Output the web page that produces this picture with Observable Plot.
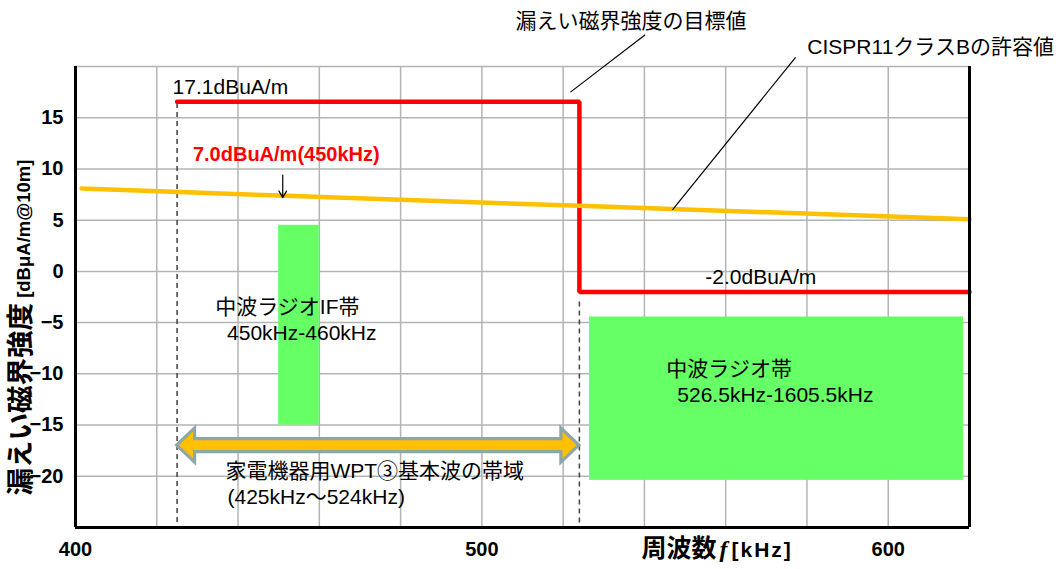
<!DOCTYPE html>
<html><head><meta charset="utf-8">
<script src="https://cdn.jsdelivr.net/npm/d3@7"></script>
<script src="https://cdn.jsdelivr.net/npm/@observablehq/plot@0.6"></script>
<style>
body{margin:0;background:#fff;}
#chart svg{display:block;}
</style></head><body><div id="chart"></div>
<script>
// ---- data ----
const xTickValues = [400, 500, 600];
const xGridValues = [420, 440, 460, 480, 500, 520, 540, 560, 580, 600];
const yTickValues = [-20, -15, -10, -5, 0, 5, 10, 15];
const yGridValues = [-20, -15, -10, -5, 0, 5, 10, 15, 20];

// target leakage field strength (red step line)
const targetF = [425, 524, 524, 620];
const targetV = [16.55, 16.55, -2.0, -2.0];
// CISPR11 class B limit (orange)
const cisprF = [401.5, 450, 524, 620];
const cisprV = [8.1, 7.4, 6.4, 5.1];

// green bands
const bandF1 = [450, 526.5];
const bandF2 = [460, 618.5];
const bandV1 = [-15, -20.4];
const bandV2 = [4.5, -4.45];

// dashed markers of WPT band edges
const dashF = [425, 524];
const dashTop = [16.4, -3.0];
const dashBottom = [-25, -25];

// WPT band double arrow
const wptF1 = 425, wptF2 = 524, wptV = -17;

// leader lines
const leadX1 = [540.2, 577.2], leadY1 = [23.1, 20.9];
const leadX2 = [521.8, 546.9], leadY2 = [17.5, 6.0];

// small arrow at 450 kHz
const pointerF = 451, pointerV1 = 9.4, pointerV2 = 7.2;

// annotations
const annText = ["17.1dBuA/m", "-2.0dBuA/m", "中波ラジオIF帯", "450kHz-460kHz", "中波ラジオ帯", "526.5kHz-1605.5kHz", "家電機器用WPT③基本波の帯域", "(425kHz～524kHz)", "漏えい磁界強度の目標値", "CISPR11クラスBの許容値"];
const annF = [423.9, 555.0, 434.4, 437.3, 545.4, 548.1, 436.9, 437.4, 508.3, 580.1];
const annV = [18.0, -0.6, -3.5, -6.0, -9.6, -12.1, -19.5, -22.0, 24.4, 21.9];
const redText = "7.0dBuA/m(450kHz)", redF = 428.9, redV = 11.4;

// ---- tables ----
const target = targetF.map((f, i) => ({f, v: targetV[i]}));
const cispr = cisprF.map((f, i) => ({f, v: cisprV[i]}));
const bands = bandF1.map((f1, i) => ({f1, f2: bandF2[i], v1: bandV1[i], v2: bandV2[i]}));
const dashes = dashF.map((f, i) => ({f, top: dashTop[i], bottom: dashBottom[i]}));
const leaders = leadX1.map((x1, i) => ({x1, y1: leadY1[i], x2: leadX2[i], y2: leadY2[i]}));
const anns = annText.map((t, i) => ({t, f: annF[i], v: annV[i]}));

const FONT = '"Liberation Sans", Arial, "Noto Sans CJK JP", sans-serif';

function wptArrow(index, scales) {
  const x1 = scales.x(wptF1), x2 = scales.x(wptF2), y = scales.y(wptV);
  const hl = 18, hh = 17, sh = 6.5;
  const d = `M${x1},${y}L${x1+hl},${y-hh}L${x1+hl},${y-sh}L${x2-hl},${y-sh}L${x2-hl},${y-hh}L${x2},${y}L${x2-hl},${y+hh}L${x2-hl},${y+sh}L${x1+hl},${y+sh}L${x1+hl},${y+hh}Z`;
  const g = d3.create("svg:g");
  g.append("path").attr("d", d).attr("fill", "#FFC000").attr("stroke", "#8FA6A8").attr("stroke-width", 3.2).attr("stroke-linejoin", "miter");
  return g.node();
}

function yLabel(index, scales, values, dims) {
  const cy = (dims.marginTop + dims.height - dims.marginBottom) / 2 + 31;
  const g = d3.create("svg:g");
  const t = g.append("text")
    .attr("transform", `translate(${dims.marginLeft - 52},${cy}) rotate(-90)`)
    .attr("text-anchor", "middle").attr("dy", "0.36em")
    .attr("font-weight", "bold").attr("fill", "#000").attr("font-family", FONT);
  t.append("tspan").attr("font-size", 27.5).text("漏えい磁界強度");
  t.append("tspan").attr("font-size", 18.5).text(" [dBμA/m@10m]");
  return g.node();
}

function xLabel(index, scales, values, dims) {
  const g = d3.create("svg:g");
  const t = g.append("text")
    .attr("x", scales.x(539.4)).attr("y", dims.height - dims.marginBottom + 23)
    .attr("text-anchor", "start")
    .attr("dy", "0.36em").attr("fill", "#000").attr("font-family", FONT);
  t.append("tspan").attr("font-size", 25).attr("font-weight", "bold").text("周波数");
  t.append("tspan").attr("font-size", 24).attr("font-style", "italic").attr("font-family", '"Liberation Serif", serif').attr("dx", 3).text("f");
  t.append("tspan").attr("font-size", 21).attr("font-weight", "bold").attr("letter-spacing", "2px").attr("dx", 4).text("[kHz]");
  return g.node();
}

const chart = Plot.plot({
  width: 1062,
  height: 569,
  marginLeft: 75,
  marginRight: 93,
  marginTop: 66,
  marginBottom: 42,
  style: {fontFamily: FONT, fontSize: "20px", fontWeight: "bold", color: "#000", background: "#fff"},
  x: {domain: [400, 620], ticks: xTickValues, tickSize: 0, tickPadding: 14, label: null},
  y: {domain: [-25, 20], ticks: yTickValues, tickSize: 0, tickPadding: 12, label: null},
  marks: [
    Plot.ruleY(yGridValues, {stroke: "#b4b4b4", strokeWidth: 1.5}),
    Plot.ruleX(xGridValues, {stroke: "#b4b4b4", strokeWidth: 1.5}),
    Plot.rect(bands, {x1: "f1", x2: "f2", y1: "v1", y2: "v2", fill: "#66FF66"}),
    Plot.ruleX(dashes, {x: "f", y1: "top", y2: "bottom", stroke: "#404040", strokeWidth: 1.5, strokeDasharray: "5,4"}),
    Plot.line(target, {x: "f", y: "v", stroke: "#FF0000", strokeWidth: 4.5, strokeLinejoin: "miter", curve: "linear"}),
    Plot.line(cispr, {x: "f", y: "v", stroke: "#FFC000", strokeWidth: 4.5}),
    Plot.ruleX([400, 620], {stroke: "#000", strokeWidth: 3}),
    Plot.ruleY([-25], {stroke: "#000", strokeWidth: 3}),
    wptArrow,
    Plot.link(leaders, {x1: "x1", y1: "y1", x2: "x2", y2: "y2", stroke: "#000", strokeWidth: 1.2}),
    Plot.arrow([{x1: pointerF, y1: pointerV1, x2: pointerF, y2: pointerV2}], {x1: "x1", y1: "y1", x2: "x2", y2: "y2", stroke: "#000", strokeWidth: 1.2, headLength: 10, bend: 0}),
    Plot.text(anns, {x: "f", y: "v", text: "t", textAnchor: "start", fontSize: 21, fontWeight: "normal", fill: "#000", lineAnchor: "middle"}),
    Plot.text([{t: redText, f: redF, v: redV}], {x: "f", y: "v", text: "t", textAnchor: "start", fontSize: 20, fontWeight: "bold", fill: "#FF0000", lineAnchor: "middle"}),
    yLabel,
    xLabel
  ]
});
document.getElementById("chart").appendChild(chart);
</script>
</body></html>
